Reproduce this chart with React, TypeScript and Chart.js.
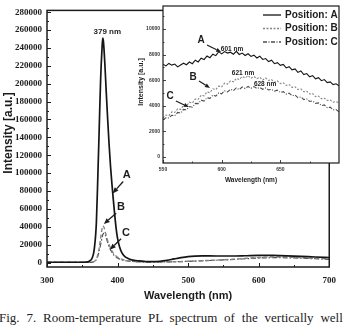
import React, { useEffect, useRef } from "react";
import { Chart, registerables } from "chart.js";

Chart.register(...registerables);

// ---- Full PL spectrum (wavelength in nm, intensity in a.u.) ----
const wlA = [300, 340, 355, 360, 364, 367, 370, 372, 374, 376, 378, 379, 380, 382, 384, 386, 388, 390, 392, 394, 396, 398, 400, 403, 406, 410, 415, 420, 430, 440, 450, 460, 470, 480, 490, 500, 510, 520, 540, 560, 580, 600, 620, 640, 660, 680, 700];
const intA = [300, 300, 500, 1500, 5000, 15000, 45000, 95000, 150000, 205000, 240000, 251000, 247000, 222000, 190000, 160000, 132000, 108000, 88000, 70000, 53000, 38000, 27000, 17000, 11000, 7000, 4500, 3000, 1800, 1100, 900, 1400, 2500, 4000, 5400, 6500, 7100, 7400, 7300, 7300, 7600, 8100, 7900, 7500, 6900, 6200, 5600];

const wlB = [300, 360, 366, 370, 373, 376, 378, 379, 381, 383, 385, 387, 389, 392, 395, 399, 404, 410, 420, 430, 450, 480, 500, 525, 550, 575, 600, 621, 650, 680, 700];
const intB = [300, 300, 1000, 4000, 12000, 27000, 38000, 41000, 39000, 33000, 27000, 22000, 18000, 13000, 9500, 6500, 4200, 2700, 1500, 900, 600, 900, 1400, 2200, 3050, 4300, 5550, 6250, 5800, 4750, 4250];

const wlC = [300, 362, 367, 371, 374, 377, 379, 381, 383, 385, 387, 389, 392, 395, 400, 405, 410, 420, 430, 450, 480, 500, 525, 550, 575, 600, 628, 650, 680, 700];
const intC = [200, 200, 1000, 5000, 13000, 24000, 31000, 33000, 30000, 25000, 20000, 16000, 11500, 8000, 5000, 3200, 2100, 1200, 700, 500, 800, 1300, 2100, 2900, 3950, 5000, 5430, 5100, 4250, 3550];

const mainXTicks = [300, 400, 500, 600, 700];
const mainYTicks = [0, 20000, 40000, 60000, 80000, 100000, 120000, 140000, 160000, 180000, 200000, 220000, 240000, 260000, 280000];

// ---- Visible-range detail (550–700 nm) ----
const insetWl = [550, 552.5, 555, 557.5, 560, 562.5, 565, 567.5, 570, 572.5, 575, 577.5, 580, 582.5, 585, 587.5, 590, 592.5, 595, 597.5, 600, 602.5, 605, 607.5, 610, 612.5, 615, 617.5, 620, 622.5, 625, 627.5, 630, 632.5, 635, 637.5, 640, 642.5, 645, 647.5, 650, 652.5, 655, 657.5, 660, 662.5, 665, 667.5, 670, 672.5, 675, 677.5, 680, 682.5, 685, 687.5, 690, 692.5, 695, 697.5, 700];
const insetA = [
  7250, 7120, 7310, 7180, 7260, 7040, 7190, 7330, 7210, 7420,
  7290, 7560, 7430, 7720, 7610, 7890, 7760, 8030, 7920, 8230,
  8060, 8240, 8120, 8190, 8030, 8260, 8010, 8120, 7930, 8070,
  7860, 7960, 7740, 7880, 7620, 7690, 7460, 7560, 7290, 7370,
  7160, 7230, 6960, 7060, 6810, 6880, 6610, 6720, 6440, 6520,
  6270, 6360, 6110, 6200, 5960, 6050, 5810, 5870, 5660, 5720,
  5560,
];
const insetB = [
  3050, 3280, 3240, 3520, 3480, 3760, 3720, 4030, 3980, 4280,
  4220, 4530, 4510, 4830, 4780, 5080, 5030, 5330, 5270, 5540,
  5480, 5770, 5700, 5950, 5880, 6140, 6050, 6290, 6180, 6360,
  6150, 6300, 6120, 6230, 6020, 6170, 5980, 6050, 5840, 5940,
  5740, 5800, 5590, 5660, 5440, 5490, 5280, 5320, 5100, 5130,
  4920, 4960, 4720, 4760, 4550, 4590, 4420, 4450, 4290, 4330,
  4230,
];
const insetC = [
  2900, 3060, 3050, 3260, 3230, 3480, 3440, 3720, 3690, 3940,
  3890, 4190, 4170, 4440, 4370, 4630, 4580, 4840, 4760, 5010,
  4940, 5170, 5080, 5290, 5190, 5400, 5270, 5470, 5350, 5510,
  5370, 5500, 5350, 5430, 5290, 5400, 5240, 5290, 5150, 5220,
  5040, 5110, 4920, 4990, 4790, 4840, 4640, 4700, 4490, 4540,
  4340, 4380, 4190, 4230, 4020, 4070, 3850, 3890, 3680, 3700,
  3530,
];
const insetXTicks = [550, 600, 650];
const insetYTicks = [0, 2000, 4000, 6000, 8000, 10000];

const seriesNames = ["Position: A", "Position: B", "Position: C"];

// Annotations in data units: [text, x, y]
const mainTexts: [string, number, number][] = [
  ["379 nm", 385.5, 258000],
  ["A", 413, 98300],
  ["B", 405, 61900],
  ["C", 412, 33100],
];
// Arrows: [fromX, fromY, toX, toY]
const mainArrows: [number, number, number, number][] = [
  [408, 90600, 393, 77300],
  [398, 55200, 380.5, 43100],
  [405, 26500, 389, 14400],
];
const insetTexts: [string, number, number][] = [
  ["A", 582.4, 9140],
  ["B", 575.6, 6250],
  ["C", 556, 4770],
];
const insetPeakTexts: [string, number, number][] = [
  ["601 nm", 608.8, 8440],
  ["621 nm", 618.2, 6560],
  ["628 nm", 637, 5700],
];
const insetArrows: [number, number, number, number][] = [
  [587.5, 8750, 599.5, 8200],
  [580.7, 5940, 590, 5390],
  [561, 4375, 572, 3900],
];

const INK = "#1c1c1c";
const colA = "#151515";
const colB = "#858585";
const colC = "#4d4d4d";
const dashB = [4, 2.5];
const dashC = [5, 2, 1.5, 2];

function minorBetween(ticks: number[], extra: number[] = []) {
  const out: number[] = [];
  for (let i = 1; i < ticks.length; i++) out.push((ticks[i - 1] + ticks[i]) / 2);
  return out.concat(extra);
}

// Box frame with inward major/minor ticks
const framePlugin = {
  id: "frame",
  afterDraw(chart: any, _args: any, o: any) {
    const { ctx, chartArea: a, scales } = chart;
    const xs = scales.x;
    const ys = scales.y;
    ctx.save();
    ctx.strokeStyle = INK;
    ctx.lineWidth = o.lineWidth;
    ctx.strokeRect(a.left, a.top, a.right - a.left, a.bottom - a.top);
    ctx.lineWidth = o.tickWidth;
    ctx.beginPath();
    const tx = (v: number, len: number) => {
      const p = Math.round(xs.getPixelForValue(v)) + 0.5;
      ctx.moveTo(p, a.bottom);
      ctx.lineTo(p, a.bottom - len);
    };
    const ty = (v: number, len: number) => {
      const p = Math.round(ys.getPixelForValue(v)) + 0.5;
      ctx.moveTo(a.left, p);
      ctx.lineTo(a.left + len, p);
    };
    o.xMajor.forEach((v: number) => tx(v, o.majorLen));
    o.xMinor.forEach((v: number) => tx(v, o.minorLen));
    o.yMajor.forEach((v: number) => ty(v, o.majorLen));
    o.yMinor.forEach((v: number) => ty(v, o.minorLen));
    ctx.stroke();
    ctx.restore();
  },
};

// Axis titles, text labels, arrows and optional line legend
const notesPlugin = {
  id: "notes",
  beforeDraw(chart: any, _args: any, o: any) {
    if (!o.whiteArea) return;
    const { ctx, chartArea: a } = chart;
    ctx.save();
    ctx.fillStyle = "#fff";
    ctx.fillRect(a.left, a.top, a.right - a.left, a.bottom - a.top);
    ctx.restore();
  },
  afterDraw(chart: any, _args: any, o: any) {
    const { ctx, chartArea: a, scales } = chart;
    const xs = scales.x;
    const ys = scales.y;
    ctx.save();
    ctx.fillStyle = INK;
    ctx.strokeStyle = INK;
    ctx.textAlign = "center";
    ctx.textBaseline = "middle";

    // arrows
    ctx.lineWidth = o.arrowWidth;
    for (const [fx, fy, txv, tyv] of o.arrows) {
      const x0 = xs.getPixelForValue(fx);
      const y0 = ys.getPixelForValue(fy);
      const x1 = xs.getPixelForValue(txv);
      const y1 = ys.getPixelForValue(tyv);
      const ang = Math.atan2(y1 - y0, x1 - x0);
      const L = o.head;
      const W = o.head * 0.42;
      const bx = x1 - L * Math.cos(ang);
      const by = y1 - L * Math.sin(ang);
      ctx.beginPath();
      ctx.moveTo(x0, y0);
      ctx.lineTo(bx, by);
      ctx.stroke();
      ctx.beginPath();
      ctx.moveTo(x1, y1);
      ctx.lineTo(bx + W * Math.sin(ang), by - W * Math.cos(ang));
      ctx.lineTo(bx - W * Math.sin(ang), by + W * Math.cos(ang));
      ctx.closePath();
      ctx.fill();
    }

    // labels
    for (const group of o.texts) {
      ctx.font = group.font;
      for (const [t, vx, vy] of group.items) {
        ctx.fillText(t, xs.getPixelForValue(vx), ys.getPixelForValue(vy));
      }
    }

    // axis titles
    ctx.font = o.xTitleFont;
    ctx.fillText("Wavelength (nm)", (a.left + a.right) / 2, a.bottom + o.xTitleGap);
    ctx.save();
    ctx.translate(o.yTitleX, o.yTitleY);
    ctx.rotate(-Math.PI / 2);
    ctx.font = o.yTitleFont;
    ctx.fillText("Intensity [a.u.]", 0, 0);
    ctx.restore();

    // legend
    if (o.legend) {
      const lg = o.legend;
      ctx.font = lg.font;
      ctx.textAlign = "left";
      chart.data.datasets.forEach((ds: any, i: number) => {
        const yy = a.top + lg.top + i * lg.rowGap;
        ctx.save();
        ctx.strokeStyle = ds.borderColor;
        ctx.lineWidth = lg.lineWidth;
        ctx.setLineDash(ds.borderDash || []);
        ctx.beginPath();
        ctx.moveTo(a.right - lg.lineStart, yy);
        ctx.lineTo(a.right - lg.lineEnd, yy);
        ctx.stroke();
        ctx.restore();
        ctx.fillText(ds.label, a.right - lg.textStart, yy);
      });
    }
    ctx.restore();
  },
};

const pts = (xs: number[], ys: number[]) => xs.map((x, i) => ({ x, y: ys[i] }));

export default function App() {
  const mainRef = useRef<HTMLCanvasElement>(null);
  const insetRef = useRef<HTMLCanvasElement>(null);

  useEffect(() => {
    const serif = "'Liberation Serif', 'Times New Roman', serif";
    const sans = "'Liberation Sans', Arial, sans-serif";

    const main = new Chart(mainRef.current as HTMLCanvasElement, {
      type: "line",
      data: {
        datasets: [
          { label: seriesNames[0], data: pts(wlA, intA), borderColor: colA, borderWidth: 1.7, pointRadius: 0, cubicInterpolationMode: "monotone" },
          { label: seriesNames[1], data: pts(wlB, intB), borderColor: colB, borderWidth: 1.4, borderDash: dashB, pointRadius: 0, cubicInterpolationMode: "monotone" },
          { label: seriesNames[2], data: pts(wlC, intC), borderColor: colC, borderWidth: 1.2, borderDash: dashC, pointRadius: 0, cubicInterpolationMode: "monotone" },
        ],
      } as any,
      plugins: [framePlugin, notesPlugin],
      options: {
        responsive: false,
        animation: false,
        devicePixelRatio: 1,
        layout: { padding: { top: 6, right: 5, left: 0, bottom: 0 } },
        plugins: {
          legend: { display: false },
          tooltip: { enabled: false },
          frame: {
            lineWidth: 1.5,
            tickWidth: 1,
            majorLen: 4,
            minorLen: 2,
            xMajor: mainXTicks,
            xMinor: minorBetween(mainXTicks),
            yMajor: mainYTicks,
            yMinor: minorBetween(mainYTicks),
          },
          notes: {
            arrowWidth: 1.3,
            head: 6,
            arrows: mainArrows,
            texts: [
              { font: `bold 8px ${sans}`, items: mainTexts.slice(0, 1) },
              { font: `bold 11px ${sans}`, items: mainTexts.slice(1) },
            ],
            xTitleFont: `bold 11px ${sans}`,
            xTitleGap: 29,
            yTitleFont: `bold 12px ${sans}`,
            yTitleX: 9,
            yTitleY: 133,
          },
        } as any,
        scales: {
          x: {
            type: "linear",
            min: 300,
            max: 700,
            afterBuildTicks: (s: any) => { s.ticks = mainXTicks.map((value) => ({ value })); },
            afterFit: (s: any) => { s.height = 43; },
            grid: { display: false, drawTicks: false },
            border: { display: false },
            ticks: { padding: 8, color: INK, maxRotation: 0, autoSkip: false, font: { family: serif, size: 9, weight: "bold" }, callback: (v: any) => String(v) },
          },
          y: {
            type: "linear",
            min: -5000,
            max: 282000,
            afterBuildTicks: (s: any) => { s.ticks = mainYTicks.map((value) => ({ value })); },
            afterFit: (s: any) => { s.width = 47; },
            grid: { display: false, drawTicks: false },
            border: { display: false },
            ticks: { padding: 5, color: INK, autoSkip: false, font: { family: serif, size: 9, weight: "bold" }, callback: (v: any) => String(v) },
          },
        } as any,
      },
    });

    const inset = new Chart(insetRef.current as HTMLCanvasElement, {
      type: "line",
      data: {
        datasets: [
          { label: seriesNames[0], data: pts(insetWl, insetA), borderColor: colA, borderWidth: 1.1, pointRadius: 0 },
          { label: seriesNames[1], data: pts(insetWl, insetB), borderColor: colB, borderWidth: 1.1, borderDash: [2, 1.5], pointRadius: 0 },
          { label: seriesNames[2], data: pts(insetWl, insetC), borderColor: colC, borderWidth: 1.1, borderDash: [4, 1.5, 1, 1.5], pointRadius: 0 },
        ],
      } as any,
      plugins: [framePlugin, notesPlugin],
      options: {
        responsive: false,
        animation: false,
        devicePixelRatio: 1,
        layout: { padding: { top: 6, right: 5, left: 0, bottom: 0 } },
        plugins: {
          legend: { display: false },
          tooltip: { enabled: false },
          frame: {
            lineWidth: 1.2,
            tickWidth: 0.8,
            majorLen: 3,
            minorLen: 1.5,
            xMajor: insetXTicks,
            xMinor: minorBetween(insetXTicks.concat([700])),
            yMajor: insetYTicks,
            yMinor: minorBetween(insetYTicks, [11000]),
          },
          notes: {
            whiteArea: true,
            arrowWidth: 1.2,
            head: 5,
            arrows: insetArrows,
            texts: [
              { font: `bold 10px ${sans}`, items: insetTexts },
              { font: `bold 6.5px ${sans}`, items: insetPeakTexts },
            ],
            xTitleFont: `bold 6.5px ${sans}`,
            xTitleGap: 17,
            yTitleFont: `bold 7px ${sans}`,
            yTitleX: 6,
            yTitleY: 82,
            legend: {
              font: `bold 10px ${sans}`,
              top: 9,
              rowGap: 13.5,
              lineStart: 76,
              lineEnd: 58,
              textStart: 54,
              lineWidth: 1.3,
            },
          },
        } as any,
        scales: {
          x: {
            type: "linear",
            min: 550,
            max: 700,
            afterBuildTicks: (s: any) => { s.ticks = insetXTicks.map((value) => ({ value })); },
            afterFit: (s: any) => { s.height = 29; },
            grid: { display: false, drawTicks: false },
            border: { display: false },
            ticks: { padding: 4, color: "#333", maxRotation: 0, autoSkip: false, font: { family: sans, size: 5, weight: "bold" }, callback: (v: any) => String(v) },
          },
          y: {
            type: "linear",
            min: -470,
            max: 11800,
            afterBuildTicks: (s: any) => { s.ticks = insetYTicks.map((value) => ({ value })); },
            afterFit: (s: any) => { s.width = 28; },
            grid: { display: false, drawTicks: false },
            border: { display: false },
            ticks: { padding: 3, color: "#333", autoSkip: false, font: { family: sans, size: 5, weight: "bold" }, callback: (v: any) => String(v) },
          },
        } as any,
      },
    });

    return () => {
      main.destroy();
      inset.destroy();
    };
  }, []);

  return (
    <div style={{ position: "fixed", left: 0, top: 0, width: 344, height: 327, background: "#fff", overflow: "hidden" }}>
      <canvas ref={mainRef} width={344} height={310} style={{ position: "absolute", left: 0, top: 0, width: 344, height: 310 }} />
      <canvas ref={insetRef} width={209} height={192} style={{ position: "absolute", left: 135, top: 0, width: 209, height: 192 }} />
      <div
        style={{
          position: "absolute",
          left: -1,
          top: 310,
          font: "13px 'Liberation Serif', 'Times New Roman', serif",
          lineHeight: "16px",
          whiteSpace: "nowrap",
          wordSpacing: "3.6px",
          color: "#222",
        }}
      >
        Fig. 7. Room-temperature PL spectrum of the vertically well
      </div>
    </div>
  );
}
